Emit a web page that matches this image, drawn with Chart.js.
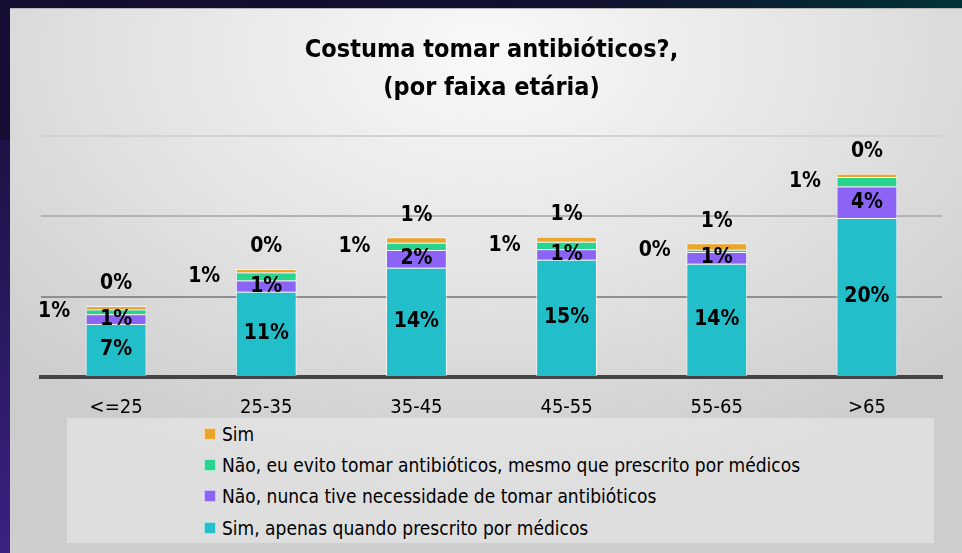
<!DOCTYPE html>
<html>
<head>
<meta charset="utf-8">
<script src="https://cdn.jsdelivr.net/npm/chart.js@4.4.1/dist/chart.umd.min.js"></script>
<style>
  html, body { margin: 0; padding: 0; width: 962px; height: 553px; overflow: hidden; }
  body {
    position: relative;
    background: linear-gradient(90deg, #150d33 0%, #12102e 60%, #003237 100%);
    font-family: "Liberation Sans Narrow", "Arial Narrow", "DejaVu Sans Condensed", sans-serif;
  }
  #sidebar {
    position: absolute; left: 0; top: 140px; width: 10px; height: 413px;
    background: linear-gradient(180deg, #1d1245 0%, #3a2282 100%);
  }
  #panel {
    position: absolute; left: 10px; top: 8px; width: 952px; height: 545px;
    background: radial-gradient(ellipse 70% 80% at 50% 8%, #f9f9f9 0%, #e2e2e2 55%, #cdcdcd 100%);
    border-top: 1px solid #b8b8b8;
  }
  #legendBox {
    position: absolute; left: 67px; top: 418px; width: 867px; height: 125px;
    background: rgba(255,255,255,0.35);
  }
  #legend { position: absolute; left: 204px; top: 418px; }
  .item { height: 31.3px; display: flex; align-items: center; font-size: 19px; color: #000; }
  .sw { width: 12px; height: 12px; margin-right: 6px; border: 1px solid rgba(255,255,255,0.6); box-sizing: border-box; }
  canvas { position: absolute; left: 0; top: 0; }
</style>
</head>
<body>
<div id="sidebar"></div>
<div id="panel"></div>
<div id="legendBox"></div>
<div id="legend"></div>
<canvas id="chart" width="962" height="553"></canvas>
<script>
const ageGroups = ["<=25", "25-35", "35-45", "45-55", "55-65", ">65"];
const seriesNames = [
  "Sim, apenas quando prescrito por médicos",
  "Não, nunca tive necessidade de tomar antibióticos",
  "Não, eu evito tomar antibióticos, mesmo que prescrito por médicos",
  "Sim"
];
const seriesColors = ["#22bfcb", "#8b63f5", "#28d48e", "#eba52a"];
const simPrescrito = [6.6, 10.6, 13.6, 14.6, 14.1, 19.8];
const naoNecessidade = [1.2, 1.4, 2.2, 1.3, 1.45, 3.9];
const naoEvito = [0.6, 1.0, 0.9, 0.95, 0.3, 1.2];
const sim = [0.45, 0.45, 0.7, 0.6, 0.8, 0.4];
const yTicks = [0, 10, 20, 30];
const labelPlaces = ["center", "center", "left", "top"];

const seriesValues = [simPrescrito, naoNecessidade, naoEvito, sim];
const gridColors = ["#404040", "#8e8e8e", "#b4b4b4", "#d2d2d2"];
const narrow = '"Liberation Sans Narrow", "Arial Narrow", "DejaVu Sans Condensed", sans-serif';

// segment labels: inside for the two big series, left of bar for green, above for orange
const segLabels = {
  id: "segLabels",
  afterDatasetsDraw(chart) {
    const ctx = chart.ctx;
    ctx.save();
    ctx.font = "bold 21px " + narrow;
    ctx.fillStyle = "#000";
    ctx.textAlign = "center";
    ctx.textBaseline = "middle";
    chart.data.datasets.forEach((ds, i) => {
      const meta = chart.getDatasetMeta(i);
      meta.data.forEach((bar, j) => {
        const txt = Math.round(ds.data[j]) + "%";
        let x = bar.x, y = (bar.y + bar.base) / 2;
        if (labelPlaces[i] === "left") x -= 62;
        if (labelPlaces[i] === "top") y = bar.y - 22;
        ctx.fillText(txt, x, y);
      });
    });
    ctx.restore();
  }
};

const chart = new Chart(document.getElementById("chart"), {
  type: "bar",
  data: {
    labels: ageGroups,
    datasets: seriesNames.map((name, i) => ({
      label: name,
      data: seriesValues[i],
      backgroundColor: seriesColors[i],
      borderColor: "rgba(255,255,255,0.7)",
      borderWidth: 1,
      barPercentage: 0.405,
      categoryPercentage: 1
    }))
  },
  options: {
    responsive: false,
    animation: false,
    layout: { padding: { top: 12, left: 41, right: 20, bottom: 114 } },
    plugins: {
      legend: { display: false },
      tooltip: { enabled: false },
      title: {
        display: true,
        text: ["Costuma tomar antibióticos?,", "(por faixa etária)"],
        color: "#000",
        font: { family: narrow, size: 25, weight: "bold", lineHeight: 1.52 },
        padding: { top: 19, bottom: 29 }
      }
    },
    scales: {
      x: {
        stacked: true,
        grid: { display: false, drawTicks: false },
        border: { display: true, color: "#444", width: 4 },
        ticks: { color: "#000", padding: 19, font: { family: narrow, size: 20 } }
      },
      y: {
        stacked: true,
        min: yTicks[0],
        max: yTicks[yTicks.length - 1],
        afterBuildTicks: s => { s.ticks = yTicks.map(v => ({ value: v })); },
        border: { display: false },
        grid: {
          drawTicks: false,
          lineWidth: 2,
          color: c => gridColors[c.index] || "#ccc"
        },
        ticks: { display: false }
      }
    }
  },
  plugins: [segLabels]
});

// left-aligned legend, top row = last series
const legend = document.getElementById("legend");
for (let i = seriesNames.length - 1; i >= 0; i--) {
  const row = document.createElement("div");
  row.className = "item";
  row.innerHTML = `<span class="sw" style="background:${seriesColors[i]}"></span><span>${seriesNames[i]}</span>`;
  legend.appendChild(row);
}
</script>
</body>
</html>
